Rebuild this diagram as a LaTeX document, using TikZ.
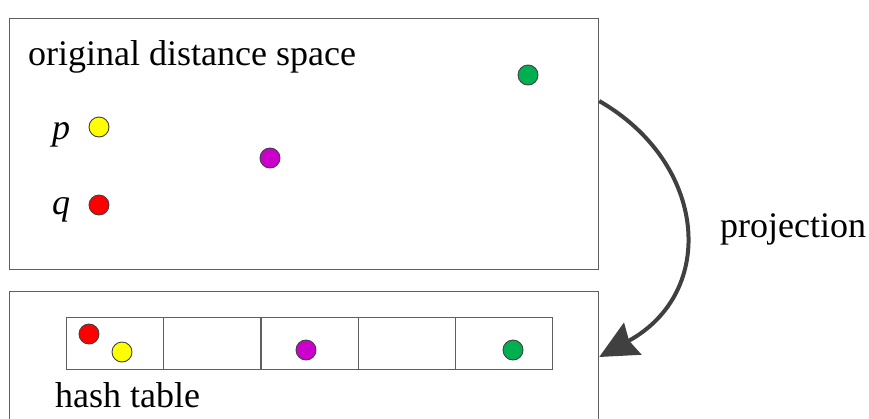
\documentclass[tikz,border=0pt]{standalone}
\usepackage{fontspec}
\setmainfont{Liberation Serif}
\usetikzlibrary{arrows.meta}
\definecolor{frame}{HTML}{5F5F5F}
\definecolor{dotedge}{HTML}{404040}
\definecolor{arrowgray}{HTML}{404040}
\definecolor{dyellow}{HTML}{FFFF00}
\definecolor{dred}{HTML}{FF0000}
\definecolor{dpurple}{HTML}{CC00CC}
\definecolor{dgreen}{HTML}{00B050}
\tikzset{
  panel/.style={draw=frame, line width=1.2pt, rectangle, inner sep=0pt, anchor=north west},
  cell/.style={draw=frame, line width=1.2pt, rectangle, inner sep=0pt, anchor=north west,
    minimum width=97.2pt, minimum height=52pt},
  dot/.style={circle, draw=dotedge, line width=0.9pt, minimum size=20pt, inner sep=0pt},
  lbl/.style={inner sep=0pt, anchor=base west, font=\fontsize{36}{40}\selectfont},
  proj/.style={draw=arrowgray, line width=4pt,
    -{Stealth[length=38pt,width=36pt,inset=4pt]}}
}
\begin{document}
\begin{tikzpicture}[x=1pt,y=-1pt]
  \clip (0,0) rectangle (869,418);
  \fill[white] (0,0) rectangle (869,418);

  % the two panels
  \node[panel, minimum width=589pt, minimum height=251pt] (space) at (9,18) {};
  \node[panel, minimum width=589pt, minimum height=150pt] (hash) at (9,291) {};

  % points in the original space
  \node[lbl] (title) at (28,65) {original distance space};
  \node[lbl] (plabel) at (52,139) {\itshape p};
  \node[lbl] (qlabel) at (52,214) {\itshape q};
  \node[dot, fill=dyellow] (p) at (99,127) {};
  \node[dot, fill=dred] (q) at (99,205) {};
  \node[dot, fill=dpurple] (m) at (270,158) {};
  \node[dot, fill=dgreen] (g) at (528,75) {};

  % hash table buckets
  \foreach \i in {0,...,4} {
    \node[cell] (b\i) at (66+97.2*\i,317) {};
  }
  \node[dot, fill=dred] (hq) at (89,334) {};
  \node[dot, fill=dyellow] (hp) at (122,352) {};
  \node[dot, fill=dpurple] (hm) at (306,350) {};
  \node[dot, fill=dgreen] (hg) at (513,350) {};
  \node[lbl] (htitle) at (55,407) {hash table};

  % projection arrow
  \coordinate (src) at (space.north east |- 0,101);
  \coordinate (dst) at (hash.north east |- 0,357);
  \draw[proj] (src) .. controls (707,163) and (718,292) .. (dst);
  \node[lbl] (plbl) at (720,237) {projection};
\end{tikzpicture}
\end{document}
